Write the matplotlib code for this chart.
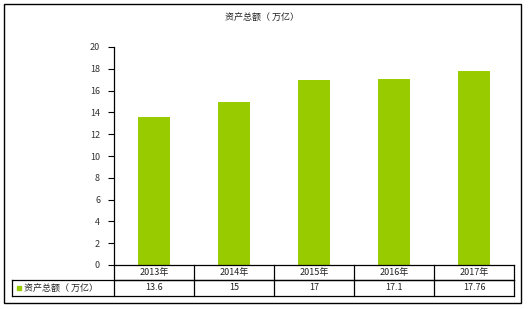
import matplotlib
matplotlib.use("Agg")
import matplotlib.pyplot as plt
from matplotlib.patches import Rectangle
import matplotlib.transforms as mtransforms

plt.rcParams['font.family'] = ['Noto Sans CJK SC', 'DejaVu Sans']

categories = ["2013年", "2014年", "2015年", "2016年", "2017年"]
values = [13.6, 15, 17, 17.1, 17.76]
value_labels = ["13.6", "15", "17", "17.1", "17.76"]
series_name = "资产总额（ 万亿）"
title = "资产总额（ 万亿）"
yticks = [0, 2, 4, 6, 8, 10, 12, 14, 16, 18, 20]

W, H = 528, 309
fig = plt.figure(figsize=(W / 100, H / 100), dpi=100)
fig.patch.set_facecolor("white")

# outer border
fig.add_artist(Rectangle((4 / W, 1 - 303 / H), (521 - 4) / W, (303 - 4) / H,
                         transform=fig.transFigure, fill=False, edgecolor="black", lw=1))

left, right, top, bottom = 114, 514, 47, 265
ax = fig.add_axes([left / W, 1 - bottom / H, (right - left) / W, (bottom - top) / H])

color = "#99CC00"
x = list(range(len(categories)))
ax.bar(x, values, width=0.39, color=color, zorder=2)
ax.set_xlim(-0.5, len(categories) - 0.5)
ax.set_ylim(0, 20)
ax.set_yticks(yticks)
ax.set_yticklabels([str(t) for t in yticks], fontsize=6.5, color="#333333")
ax.tick_params(axis='y', length=4, width=0.8, pad=6, direction='out')
ax.set_xticks([])
for s in ["top", "right"]:
    ax.spines[s].set_visible(False)
ax.spines["left"].set_linewidth(0.9)
ax.spines["bottom"].set_linewidth(0.9)

fig.text(262 / W, 1 - 17 / H, title, ha="center", va="center", fontsize=6.5, color="#222222")

# data table under the axis
trans = mtransforms.blended_transform_factory(ax.transData, ax.transAxes)
ah = bottom - top
r1 = -(280 - bottom) / ah
r2 = -(296 - bottom) / ah
xl = -0.5 - (left - 12) / ((right - left) / len(categories))
xr = len(categories) - 0.5
lk = dict(transform=trans, color="black", lw=0.9, clip_on=False)
ax.plot([-0.5, xr], [r1, r1], **lk)
ax.plot([xl, xr], [r1, r1], **lk)
ax.plot([xl, xr], [r2, r2], **lk)
ax.plot([xl, xl], [r1, r2], **lk)
for i in range(len(categories) + 1):
    ax.plot([i - 0.5, i - 0.5], [0, r2], **lk)
for i, (c, v) in enumerate(zip(categories, value_labels)):
    ax.text(i, r1 / 2, c, transform=trans, ha="center", va="center", fontsize=6.5, color="#222222")
    ax.text(i, (r1 + r2) / 2, v, transform=trans, ha="center", va="center", fontsize=6.5, color="#222222")
# legend key + row label
ax.add_patch(Rectangle((xl + 0.06, (r1 + r2) / 2 - 0.01), 0.05, 0.02, transform=trans,
                       color=color, clip_on=False))
ax.text(xl + 0.15, (r1 + r2) / 2, series_name, transform=trans, ha="left", va="center",
        fontsize=6.5, color="#222222")

fig.savefig("out.png", dpi=100)
